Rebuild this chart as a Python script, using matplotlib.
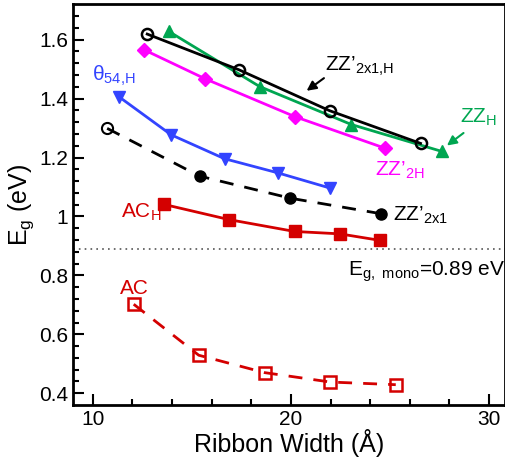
import matplotlib
matplotlib.use("Agg")
import matplotlib.pyplot as plt

plt.rcParams['font.family'] = ['Liberation Sans', 'DejaVu Sans']
plt.rcParams['mathtext.fontset'] = 'custom'
plt.rcParams['mathtext.rm'] = 'Liberation Sans'

# data
zz2x1h_w = [12.75, 17.37, 21.95, 26.54]
zz2x1h_e = [1.619, 1.498, 1.359, 1.248]

zzh_w = [13.84, 18.42, 23.05, 27.6]
zzh_e = [1.628, 1.441, 1.312, 1.221]

zz2h_w = [12.58, 15.68, 20.19, 24.73]
zz2h_e = [1.566, 1.467, 1.339, 1.232]

theta_w = [11.31, 13.96, 16.65, 19.34, 21.99]
theta_e = [1.407, 1.277, 1.196, 1.148, 1.096]

zz2x1_w = [10.73, 15.39, 19.97, 24.57]
zz2x1_e = [1.299, 1.137, 1.062, 1.009]

ach_w = [13.59, 16.9, 20.19, 22.46, 24.48]
ach_e = [1.041, 0.989, 0.949, 0.941, 0.919]

ac_w = [12.07, 15.35, 18.67, 21.99, 25.29]
ac_e = [0.702, 0.529, 0.470, 0.438, 0.429]

e_mono = 0.89

green = '#00a651'
magenta = '#ff00ff'
blue = '#3344ff'
red = '#d40000'

fig = plt.figure(figsize=(5.06, 4.59), dpi=100)
ax = fig.add_axes([0.144, 0.1176, 0.854, 0.873])

ax.axhline(e_mono, color='#555555', lw=1.2, ls=(0, (1, 2.5)))

ax.plot(zzh_w, zzh_e, '-^', color=green, lw=2, ms=8)
ax.plot(zz2x1h_w, zz2x1h_e, '-o', color='black', lw=2, ms=8,
        mfc='none', mew=1.8)
ax.plot(zz2h_w, zz2h_e, '-D', color=magenta, lw=2, ms=7)
ax.plot(theta_w, theta_e, '-v', color=blue, lw=2, ms=8)
ax.plot(zz2x1_w, zz2x1_e, '--', color='black', lw=2, dashes=(5, 4))
ax.plot(zz2x1_w[:1], zz2x1_e[:1], 'o', color='black', ms=8, mfc='none', mew=1.5)
ax.plot(zz2x1_w[1:], zz2x1_e[1:], 'o', color='black', ms=8)
ax.plot(ach_w, ach_e, '-s', color=red, lw=2, ms=8)
ax.plot(ac_w, ac_e, '--s', color=red, lw=2, ms=8, mfc='none', mew=1.8,
        dashes=(5, 4))

ax.text(9.95, 1.478, r"θ$_\mathregular{54{,}H}$", color=blue, fontsize=15,
        va='center', ha='left')
ax.text(21.7, 1.495, r"ZZ’$_\mathregular{2x1{,}H}$", color='black', fontsize=15)
ax.annotate("", xy=(20.68, 1.421), xytext=(21.78, 1.475),
            arrowprops=dict(arrowstyle='-|>', color='black', lw=1.5,
                            mutation_scale=14))
ax.text(28.52, 1.320, r"ZZ$_\mathregular{H}$", color=green, fontsize=15)
ax.annotate("", xy=(27.76, 1.235), xytext=(28.82, 1.289),
            arrowprops=dict(arrowstyle='-|>', color=green, lw=1.5,
                            mutation_scale=14))
ax.text(24.22, 1.139, r"ZZ’$_\mathregular{2H}$", color=magenta, fontsize=15)
ax.text(25.13, 0.986, r"ZZ’$_\mathregular{2x1}$", color='black', fontsize=15)
ax.text(11.43, 0.998, r"AC$_\mathregular{H}$", color=red, fontsize=15)
ax.text(11.4, 0.738, "AC", color=red, fontsize=15)
ax.text(22.86, 0.80, r"E$_\mathregular{g,\ mono}$=0.89 eV", color='black',
        fontsize=15)

ax.set_xlim(9, 30.8)
ax.set_ylim(0.36, 1.72)
ax.set_xticks([10, 20, 30])
ax.set_xticks(range(10, 31, 2), minor=True)
ax.set_yticks([0.4, 0.6, 0.8, 1.0, 1.2, 1.4, 1.6])
ax.set_yticklabels(['0.4', '0.6', '0.8', '1', '1.2', '1.4', '1.6'])
ax.set_yticks([0.4 + 0.04 * i for i in range(33)], minor=True)
ax.tick_params(which='both', direction='in', labelsize=15, width=1.5)
ax.tick_params(which='major', length=8)
ax.tick_params(which='minor', length=4)
for sp in ax.spines.values():
    sp.set_linewidth(2)

ax.set_xlabel("Ribbon Width (Å)", fontsize=18, labelpad=0)
ax.set_ylabel(r"E$_\mathregular{g}$ (eV)", fontsize=18, labelpad=2)

fig.savefig("out.png", dpi=100)
